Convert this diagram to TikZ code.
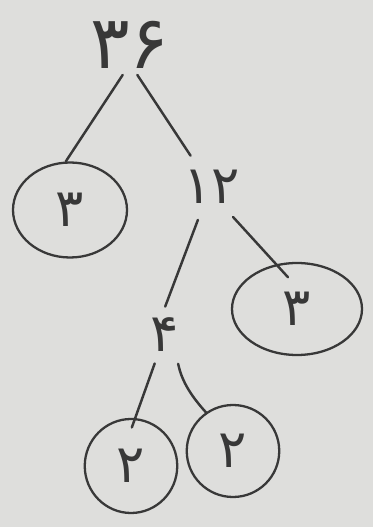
\documentclass[tikz,border=0pt]{standalone}
\usepackage{fontspec}
\newfontfamily\persianfont[Script=Arabic]{DejaVu Sans}
\usetikzlibrary{shapes.geometric}
\definecolor{Paper}{HTML}{DEDEDC}
\definecolor{Ink}{HTML}{383838}
\tikzset{
  num/.style={text=Ink, inner sep=1pt, font=\persianfont\fontsize{30}{34}\selectfont},
  bignum/.style={num, font=\persianfont\fontsize{42}{46}\selectfont},
  prime/.style={num, ellipse, draw=Ink, line width=1.3pt},
  branch/.style={line width=1.4pt, draw=Ink, line cap=round},
}

\begin{document}
\begin{tikzpicture}
\fill[Paper] (0,0) rectangle (7.46,10.54);
\useasboundingbox (0,0) rectangle (7.46,10.54);
% numbers
\node[bignum] (top) at (2.6,9.64) {۳۶};
\node[num] (n12) at (4.24,6.8) {۱۲};
\node[num] (n4) at (3.3,3.84) {۴};
% circled primes
\node[prime, minimum width=2.28cm, minimum height=1.9cm] (c3L) at (1.4,6.34) {۳};
\node[prime, minimum width=2.6cm, minimum height=1.84cm] (c3R) at (5.94,4.36) {۳};
\node[prime, minimum width=1.85cm, minimum height=1.88cm] (c2L) at (2.62,1.22) {۲};
\node[prime, minimum width=1.85cm, minimum height=1.84cm] (c2R) at (4.66,1.52) {۲};
% branches
\draw[branch, shorten <=0.1cm] (top.-100) -- (c3L.95);
\draw[branch, shorten <=0.1cm, shorten >=0.3cm] (top.-80) -- (n12.125);
\draw[branch, shorten <=0.3cm, shorten >=0.2cm] (n12.-115) -- (n4.100);
\draw[branch, shorten <=0.3cm, shorten >=-0.35cm] (n12.-60) -- (c3R.115);
\draw[branch, shorten <=0.2cm, shorten >=-0.2cm] (n4.-110) -- (c2L.85);
\draw[branch, shorten <=0.2cm] (n4.-60) to[bend right=15] (c2R.125);
\end{tikzpicture}
\end{document}
